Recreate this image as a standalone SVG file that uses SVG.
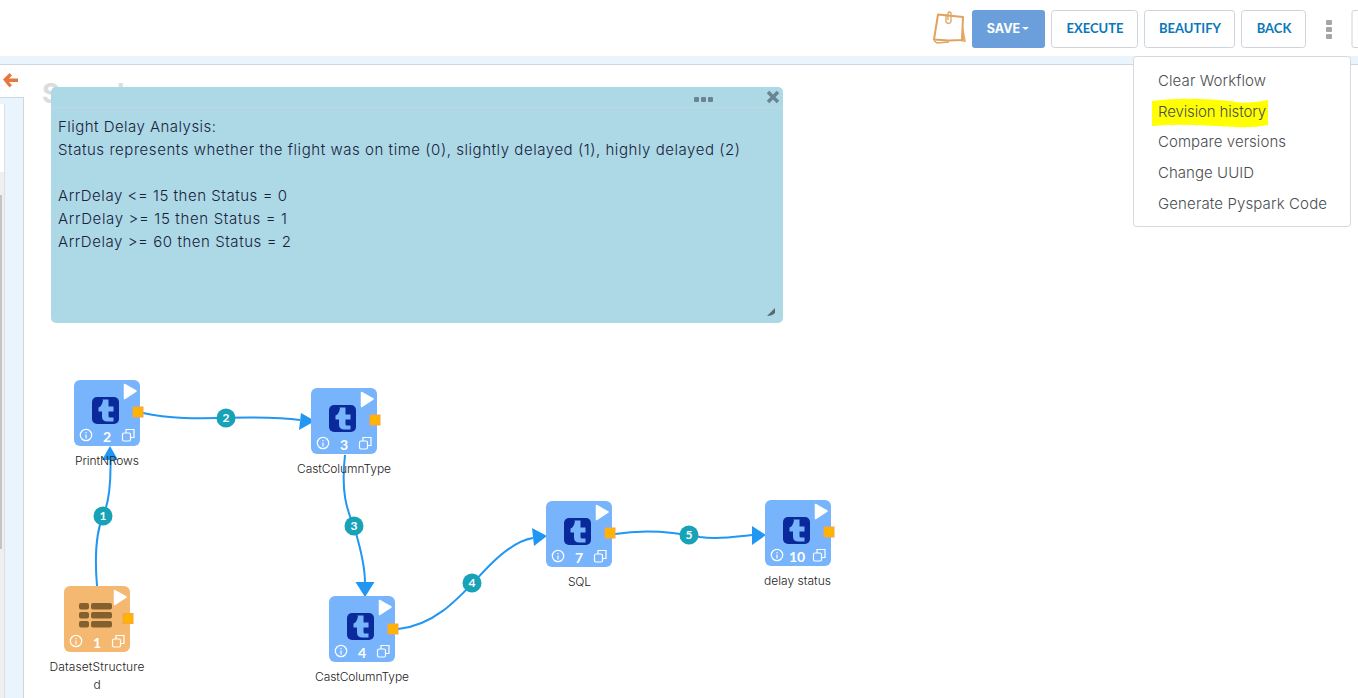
<svg xmlns="http://www.w3.org/2000/svg" width="1358" height="698" viewBox="0 0 1358 698">
<defs>
<style>
text{font-family:"Inter","Lato","Noto Sans","Liberation Sans",sans-serif}
.btn{fill:#fff;stroke:#ced4da;stroke-width:1}
.bt{font-family:"Lato","Liberation Sans",sans-serif;font-size:13px;font-weight:700;fill:#0b78b8;text-anchor:middle}
.menu{font-size:15px;font-weight:300;fill:#4a4e52}
.note{font-size:15px;font-weight:300;fill:#16233c}
.lbl{font-size:12px;font-weight:300;fill:#222;text-anchor:middle}
.node{fill:#78b4fb}
.ds{fill:#f4b870}
.badge{fill:#17a2b8}
.bn{font-family:"Lato","Liberation Sans",sans-serif;font-size:12px;font-weight:700;fill:#fff;text-anchor:middle}
.nn{font-family:"Lato","Liberation Sans",sans-serif;font-size:14px;font-weight:700;fill:#fff;text-anchor:middle}
.port{fill:#ffb400;stroke:#f9a24a;stroke-width:1}
.conn{fill:none;stroke:#2196f3;stroke-width:2}
.head{fill:#2196f3}
.ic{fill:none;stroke:#fff;stroke-width:1.2}
</style>
<g id="task">
<rect class="node" x="0" y="0" width="66" height="66" rx="6"/>
<rect x="18" y="17" width="27" height="27" rx="5" fill="#0a2a9c"/>
<path d="M28 19.500h6.500v7h5v5h-5v4.500q0 1.500 1.500 1.500h3.500v4h-6q-5.500 0-5.500-5v-5h-3.500v-4q3.500-1 4.500-7.500z" fill="#78b4fb"/>
</g>
<g id="chrome">
<path d="M50.500 4.500l11.500 6.500-11.500 7.500z" fill="#fff" stroke="#fff" stroke-width="1.500" stroke-linejoin="round"/>
<circle cx="12" cy="55" r="5.700" class="ic"/>
<path d="M12 52v1.200M12 54.500v4" class="ic"/>
<rect x="48.500" y="53" width="8" height="8" rx="1.500" class="ic"/>
<path d="M52 53v-3.500h8v8h-3.500" class="ic"/>
</g>
</defs>
<rect width="1358" height="698" fill="#fff"/>
<rect x="0" y="56" width="1358" height="8" fill="#eaf4fd"/>
<rect x="0" y="64" width="1358" height="1" fill="#cdd5de"/>
<g id="toolbar">
<path d="M961 16l5 26-14-2z" fill="#e6ad6c"/>
<path d="M938 14.500l25 2.500-1 23-13 .5-15-1z" fill="#fff" stroke="#e0a35f" stroke-width="2" stroke-linejoin="round"/>
<path d="M934 40.500l3 2.500 12-1" fill="none" stroke="#e0a35f" stroke-width="1.500"/>
<path d="M946 14v8q3 3 5 0v-9q-2-2-3 0v7" fill="none" stroke="#e0a35f" stroke-width="1.300"/>
<rect x="972" y="10" width="73" height="38" rx="3" fill="#6a9fdb"/>
<text x="1003.500" y="33" font-family="Lato,Liberation Sans,sans-serif" font-size="12.500" font-weight="700" fill="#fff" text-anchor="middle">SAVE</text>
<path d="M1022 27h7l-3.500 3z" fill="#fff"/>
<rect class="btn" x="1051.500" y="10.500" width="86" height="37" rx="3"/>
<text class="bt" x="1095" y="33">EXECUTE</text>
<rect class="btn" x="1144.500" y="10.500" width="90" height="37" rx="3"/>
<text class="bt" x="1190" y="33">BEAUTIFY</text>
<rect class="btn" x="1241.500" y="10.500" width="64" height="37" rx="3"/>
<text class="bt" x="1274" y="33">BACK</text>
<g fill="#a5a5a5"><rect x="1326" y="20" width="6" height="5" rx="1"/><rect x="1326" y="27" width="6" height="5" rx="1"/><rect x="1326" y="34" width="6" height="5" rx="1"/></g>
<path d="M1358 10.500h-4q-2 0-2 2v33q0 2 2 2h4" fill="#fff" stroke="#ced4da"/>
</g>
<g id="menu">
<rect x="1133.500" y="56.500" width="217" height="170" rx="3" fill="#fff" stroke="#d5d9dd"/>
<path d="M1152 101q22-3 48-2t36 3t32-2l0 25q-15 3-33 2t-40-2t-43 1z" fill="#ffff00"/>
<text class="menu" x="1158" y="86" textLength="108">Clear Workflow</text>
<text class="menu" x="1158" y="117" textLength="108">Revision history</text>
<text class="menu" x="1158" y="147" textLength="128">Compare versions</text>
<text class="menu" x="1158" y="178" textLength="96">Change UUID</text>
<text class="menu" x="1158" y="209" textLength="169">Generate Pyspark Code</text>
</g>
<g id="side">
<path d="M3 79.500l6.500-6.500 2.500 2.500-3 3h9v3.500h-9l3 3-2.500 2.500z" fill="#e8773c"/>
<text x="42" y="103" font-family="Lato,Liberation Sans,sans-serif" font-size="27" font-weight="700" fill="#dcdcdc">Sample</text>
<rect x="0" y="97" width="24" height="601" fill="#eaf4fd"/>
<rect x="23" y="97" width="1" height="601" fill="#cdd5de"/>
<rect x="0" y="97" width="23" height="1" fill="#cdd5de"/>
<rect x="0" y="104" width="5" height="68" fill="#fff"/>
<rect x="4" y="104" width="1" height="594" fill="#d8e0e8"/>
<rect x="0" y="172" width="4" height="526" fill="#efefef"/>
<rect x="0" y="195" width="2" height="354" fill="#c4c4c4"/>
</g>
<g id="note">
<rect x="51" y="87" width="732" height="236" rx="5" fill="#add8e6"/>
<rect x="51" y="107" width="732" height="1" fill="#c3d6de"/>
<g fill="#6c8391"><rect x="694" y="97" width="5" height="5" rx="1"/><rect x="701" y="97" width="5" height="5" rx="1"/><rect x="708" y="97" width="5" height="5" rx="1"/></g>
<path d="M768 92l10 10M778 92l-10 10" stroke="#6c8391" stroke-width="3.500" fill="none"/>
<path d="M767 316l8-8v5q-3 3-8 3z" fill="#5a6670"/>
<text class="note" x="58" y="132" textLength="158">Flight Delay Analysis:</text>
<text class="note" x="58" y="155" textLength="682">Status represents whether the flight was on time (0), slightly delayed (1), highly delayed (2)</text>
<text class="note" x="58" y="201" textLength="229">ArrDelay &lt;= 15 then Status = 0</text>
<text class="note" x="58" y="224" textLength="229">ArrDelay &gt;= 15 then Status = 1</text>
<text class="note" x="58" y="247" textLength="233">ArrDelay &gt;= 60 then Status = 2</text>
</g>
<g id="connectors">
<path class="conn" d="M97 586C94 550 97 530 103 516C108 505 111 490 110.500 460"/>
<path class="head" d="M110 446l8 14h-16z"/>
<path class="conn" d="M143 413C190 424 250 413 300 420"/>
<path class="head" d="M315 421l-16 9 2-17z"/>
<path class="conn" d="M345 455C340 500 350 515 355 530C361 550 365 570 365 583"/>
<path class="head" d="M365 597l-9.500-15h19z"/>
<path class="conn" d="M398 629C440 625 465 590 490 565C505 550 520 540 533 538"/>
<path class="head" d="M547 536l-13 10-2-18z"/>
<path class="conn" d="M615 534C650 528 680 533 700 537C720 540 740 536 752 535"/>
<path class="head" d="M766 535l-14 10v-19z"/>
<g><circle class="badge" cx="103" cy="516" r="9.500"/><text class="bn" x="103" y="520">1</text></g>
<g><circle class="badge" cx="226" cy="418" r="9.500"/><text class="bn" x="226" y="422">2</text></g>
<g><circle class="badge" cx="354" cy="526" r="9.500"/><text class="bn" x="354" y="530">3</text></g>
<g><circle class="badge" cx="472" cy="583" r="9.500"/><text class="bn" x="472" y="587">4</text></g>
<g><circle class="badge" cx="689" cy="535" r="9.500"/><text class="bn" x="689" y="539">5</text></g>
</g>
<g id="node-1">
<rect class="ds" x="64" y="586" width="66" height="66" rx="6"/>
<g fill="#85602f"><rect x="79" y="603" width="10" height="6.500" rx="2"/><rect x="91" y="603" width="21" height="6.500" rx="2"/><rect x="79" y="612" width="10" height="6.500" rx="2"/><rect x="91" y="612" width="21" height="6.500" rx="2"/><rect x="79" y="621" width="10" height="6.500" rx="2"/><rect x="91" y="621" width="21" height="6.500" rx="2"/></g>
<use href="#chrome" x="64" y="586"/>
<text class="nn" x="97" y="648">1</text>
<rect class="port" x="123" y="613.500" width="10" height="10"/>
<text class="lbl" x="97" y="671" textLength="95">DatasetStructure</text>
<text class="lbl" x="97" y="689">d</text>
</g>
<g id="node-2">
<use href="#task" x="74" y="380"/><use href="#chrome" x="74" y="380"/>
<text class="nn" x="107" y="442">2</text>
<rect class="port" x="133" y="407" width="10" height="10"/>
<text class="lbl" x="107" y="465" textLength="64">PrintNRows</text>
</g>
<g id="node-3">
<use href="#task" x="311" y="388"/><use href="#chrome" x="311" y="388"/>
<text class="nn" x="344" y="450">3</text>
<rect class="port" x="370" y="415" width="10" height="10"/>
<text class="lbl" x="344" y="473" textLength="94">CastColumnType</text>
</g>
<g id="node-4">
<use href="#task" x="329" y="596"/><use href="#chrome" x="329" y="596"/>
<text class="nn" x="362" y="658">4</text>
<rect class="port" x="388" y="624" width="10" height="10"/>
<text class="lbl" x="362" y="681" textLength="94">CastColumnType</text>
</g>
<g id="node-7">
<use href="#task" x="546" y="501"/><use href="#chrome" x="546" y="501"/>
<text class="nn" x="579" y="563">7</text>
<rect class="port" x="605" y="528" width="10" height="10"/>
<text class="lbl" x="579.500" y="586" textLength="23">SQL</text>
</g>
<g id="node-10">
<use href="#task" x="765" y="500"/><use href="#chrome" x="765" y="500"/>
<text class="nn" x="797" y="562">10</text>
<rect class="port" x="824" y="527" width="10" height="10"/>
<text class="lbl" x="797.500" y="585" textLength="67">delay status</text>
</g>
</svg>
